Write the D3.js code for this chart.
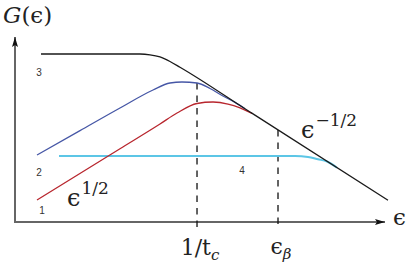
<!DOCTYPE html>
<html>
<head>
<meta charset="utf-8">
<script src="https://cdn.jsdelivr.net/npm/d3@7/dist/d3.min.js"></script>
<style>
  html, body { margin: 0; padding: 0; background: #fff; }
  svg { display: block; }
  .math { font-family: "DejaVu Serif", "Liberation Serif", serif; fill: #222; }
  .num { font-family: "Liberation Sans", Arial, sans-serif; font-size: 10px; fill: #333; }
</style>
</head>
<body>
<svg id="chart" width="415" height="266"></svg>
<script>
// ---- data (x = log ε, y = log G, arbitrary units) ----
const curve3 = [[0.728,3.537],[3.396,3.537],[3.666,3.520],[3.935,3.474],[4.205,3.379],[4.474,3.259],[6.361,2.316],[10.081,0.457]];
const curve2 = [[0.620,1.411],[1.779,1.924],[2.857,2.400],[3.747,2.779],[4.205,2.926],[4.528,2.947],[4.933,2.926],[5.283,2.811],[5.606,2.663],[5.957,2.518],[6.226,2.383]];
const curve1 = [[0.620,0.463],[2.857,1.543],[3.935,2.063],[4.394,2.295],[4.933,2.495],[5.364,2.526],[5.768,2.484],[6.092,2.404],[6.415,2.288]];
const curve4 = [[1.213,1.389],[7.574,1.389],[7.925,1.368],[8.194,1.320],[8.437,1.274],[8.706,1.143]];
const tickValues = [4.933, 7.116];
const tickTops = [2.926, 1.937];
const tickLabels = [["1/t", "c"], ["ϵ", "β"]];
const curveLabels = ["1", "2", "3", "4"];

// ---- layout ----
const svg = d3.select("#chart");
const x = d3.scaleLinear().domain([0, 10]).range([14, 385]);
const y = d3.scaleLinear().domain([0, 4]).range([222, 32]);
const ox = 15, oy = 222;

const defs = svg.append("defs");
defs.append("marker").attr("id", "arrow").attr("viewBox", "0 0 10 6")
  .attr("refX", 10).attr("refY", 3).attr("markerWidth", 10).attr("markerHeight", 6)
  .attr("markerUnits", "userSpaceOnUse").attr("orient", "auto")
  .append("path").attr("d", "M0,0 L10,3 L0,6 L2,3 Z").attr("fill", "#111");

// axes
svg.append("line").attr("x1", ox).attr("y1", oy).attr("x2", ox).attr("y2", 37)
  .attr("stroke", "#666").attr("stroke-width", 2).attr("marker-end", "url(#arrow)");
svg.append("line").attr("x1", ox - 1).attr("y1", oy).attr("x2", 385).attr("y2", oy)
  .attr("stroke", "#666").attr("stroke-width", 2).attr("marker-end", "url(#arrow)");

// dashed guide lines
tickValues.forEach((v, i) => {
  svg.append("line").attr("x1", x(v)).attr("x2", x(v))
    .attr("y1", y(tickTops[i])).attr("y2", oy + 6)
    .attr("stroke", "#111").attr("stroke-width", 1.3)
    .attr("stroke-dasharray", "6.5,6");
});

const line = d3.line().x(d => x(d[0])).y(d => y(d[1])).curve(d3.curveMonotoneX);
const series = [
  { data: curve4, color: "#5cc6e6", w: 2 },
  { data: curve1, color: "#b8262e", w: 1.3 },
  { data: curve2, color: "#4657a6", w: 1.3 },
  { data: curve3, color: "#1a1a1a", w: 1.3 }
];
series.forEach(s => {
  svg.append("path").attr("d", line(s.data)).attr("fill", "none")
    .attr("stroke", s.color).attr("stroke-width", s.w);
});

// curve number labels
const numPos = [[42, 214], [39, 176], [39, 76], [242, 174]];
curveLabels.forEach((t, i) => {
  svg.append("text").attr("class", "num").attr("x", numPos[i][0]).attr("y", numPos[i][1])
    .attr("text-anchor", "middle").text(t);
});

// axis title G(ϵ)
const g = svg.append("text").attr("class", "math").attr("x", 3).attr("y", 23).attr("font-size", 23);
g.append("tspan").attr("font-style", "italic").text("G");
g.append("tspan").text("(ϵ)");

// x axis label
svg.append("text").attr("class", "math").attr("x", 393).attr("y", 225).attr("font-size", 23).text("ϵ");

// tick labels
function subLabel(cx, base, main, sub) {
  const t = svg.append("text").attr("class", "math").attr("x", cx).attr("y", base)
    .attr("font-size", 22).attr("text-anchor", "middle");
  t.append("tspan").text(main);
  t.append("tspan").attr("font-size", 15).attr("dy", 5).attr("font-style", "italic").text(sub);
}
subLabel(x(tickValues[0]) + 3, 255, tickLabels[0][0], tickLabels[0][1]);
subLabel(x(tickValues[1]) + 3, 254, tickLabels[1][0], tickLabels[1][1]);

// power-law annotations
function powLabel(px, base, sup) {
  const t = svg.append("text").attr("class", "math").attr("x", px).attr("y", base).attr("font-size", 24);
  t.append("tspan").text("ϵ");
  t.append("tspan").attr("font-size", 17).attr("dy", -12).attr("dx", 1).text(sup);
}
powLabel(67, 206, "1/2");
powLabel(301, 138, "−1/2");
</script>
</body>
</html>
